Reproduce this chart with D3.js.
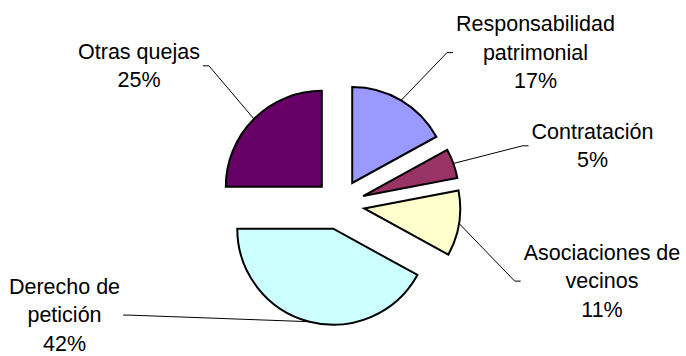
<!DOCTYPE html>
<html>
<head>
<meta charset="utf-8">
<script src="https://cdn.jsdelivr.net/npm/d3@7"></script>
<style>
  html, body { margin: 0; padding: 0; background: #fff; }
  svg { display: block; }
</style>
</head>
<body>
<div id="chart"></div>
<script>
// data (clockwise from 12 o'clock)
const categories = ['Responsabilidad\npatrimonial', 'Contratación', 'Asociaciones de\nvecinos', 'Derecho de\npetición', 'Otras quejas'];
const values = [17, 5, 11, 42, 25];
const colors = ['#9999FF', '#993366', '#FFFFCC', '#CCFFFF', '#660066'];

// layout
const W = 686, H = 356;
const cx = 339.5, cy = 204.5, radius = 96, explode = 25;
const lineH = 28.6;
// label block: centre x, first baseline y
const labelPos = [[535.5, 31], [592.5, 138.5], [602, 259.5], [64.5, 293.5], [139, 58.5]];

const svg = d3.select('#chart')
  .append('svg')
  .attr('width', W)
  .attr('height', H)
  .attr('viewBox', `0 0 ${W} ${H}`);

const pie = d3.pie().sort(null).value(d => d.value);
const arc = d3.arc().innerRadius(0).outerRadius(radius);

const data = categories.map((c, i) => ({ name: c, value: values[i], color: colors[i] }));
const arcs = pie(data);
const total = d3.sum(values);

const dirOf = a => {
  const m = (a.startAngle + a.endAngle) / 2;
  return [Math.sin(m), -Math.cos(m)];
};

const g = svg.append('g').attr('transform', `translate(${cx},${cy})`);

g.selectAll('path.slice')
  .data(arcs)
  .enter()
  .append('path')
  .attr('class', 'slice')
  .attr('transform', d => {
    const [dx, dy] = dirOf(d);
    return `translate(${dx * explode},${dy * explode})`;
  })
  .attr('d', arc)
  .attr('fill', d => d.data.color)
  .attr('stroke', '#000')
  .attr('stroke-width', 2)
  .attr('stroke-linejoin', 'miter');

// labels
const labels = svg.append('g').attr('class', 'labels');
const leaders = svg.insert('g', 'g.labels').attr('class', 'leaders');

arcs.forEach((d, i) => {
  const lines = d.data.name.split('\n').concat([d3.format('.0%')(d.data.value / total)]);
  const [lx, ly] = labelPos[i];
  const t = labels.append('text')
    .attr('text-anchor', 'middle')
    .attr('font-family', 'Liberation Sans, Arial, sans-serif')
    .attr('font-size', '21.5px')
    .attr('fill', '#000');
  lines.forEach((s, k) => {
    t.append('tspan').attr('x', lx).attr('y', ly + k * lineH).text(s);
  });

  // leader line from slice's outer arc midpoint to label box edge
  const [dx, dy] = dirOf(d);
  const px = cx + dx * (explode + radius);
  const py = cy + dy * (explode + radius);
  const bb = t.node().getBBox();
  const my = bb.y + bb.height / 2;
  const leftSide = px > bb.x + bb.width;
  const ex = leftSide ? bb.x + bb.width + 3 : bb.x - 3;
  const sx = leftSide ? ex + 6 : ex - 6;
  leaders.append('path')
    .attr('d', `M${ex},${my}L${sx},${my}L${px},${py}`)
    .attr('fill', 'none')
    .attr('stroke', '#000')
    .attr('stroke-width', 1);
});
</script>
</body>
</html>
